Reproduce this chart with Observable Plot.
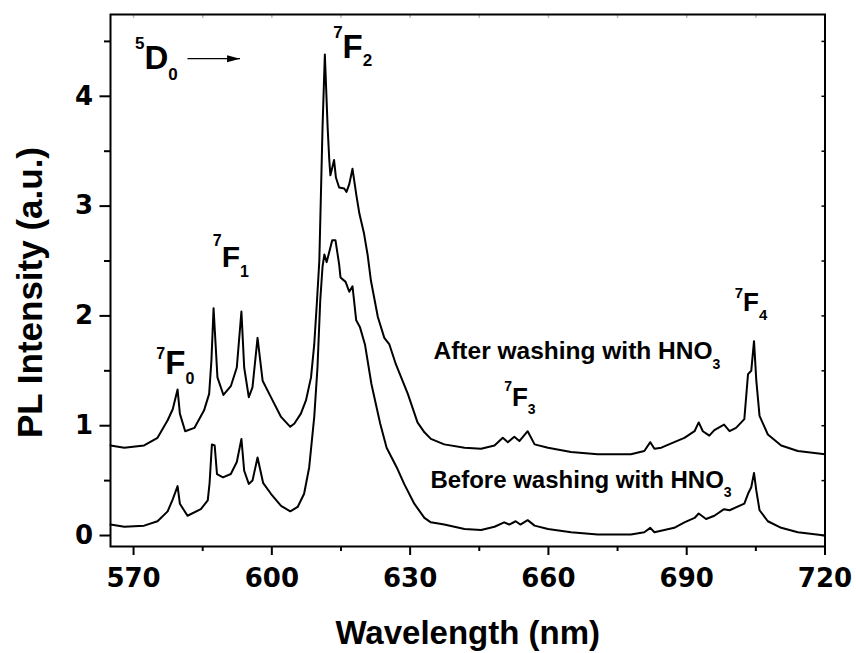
<!DOCTYPE html>
<html><head><meta charset="utf-8">
<script src="https://cdn.jsdelivr.net/npm/d3@7"></script>
<script src="https://cdn.jsdelivr.net/npm/@observablehq/plot@0.6"></script>
<style>html,body{margin:0;padding:0;background:#fff}svg{display:block}</style>
</head><body><div id="chart"></div>
<script>
// ---- data ----
const afterWl = [565.0,568.0,572.3,575.2,577.4,578.5,579.55,580.05,581.2,583.2,585.3,586.4,586.9,587.36,588.2,589.5,591.1,592.4,593.4,594.0,595.0,595.8,596.9,598.0,599.8,602.0,604.0,604.9,606.3,607.4,608.5,609.2,609.8,610.3,611.0,611.5,612.1,612.46,612.7,613.5,613.9,614.6,615.7,616.2,616.8,617.5,618.3,619.0,620.0,620.8,621.5,623.0,624.4,625.5,626.9,629.5,631.6,633.1,634.5,637.4,641.8,645.4,648.3,650.1,651.2,652.6,653.7,655.5,657.0,659.9,664.9,670.7,677.9,680.8,682.1,683.0,684.5,687.3,689.5,691.7,692.6,693.5,694.9,696.0,698.1,699.3,700.7,702.5,703.3,704.0,704.6,705.1,705.8,707.6,710.5,714.1,720.0];
const afterI  = [0.82,0.80,0.82,0.89,1.05,1.15,1.33,1.11,0.95,0.98,1.14,1.29,1.60,2.07,1.44,1.28,1.36,1.53,2.04,1.53,1.26,1.35,1.80,1.41,1.26,1.08,0.99,1.02,1.11,1.23,1.44,1.74,2.14,2.50,3.72,4.38,3.72,3.42,3.28,3.42,3.26,3.17,3.16,3.13,3.20,3.34,3.11,2.93,2.75,2.55,2.32,1.99,1.80,1.74,1.56,1.29,1.03,0.94,0.88,0.83,0.80,0.79,0.82,0.89,0.85,0.90,0.86,0.95,0.83,0.80,0.76,0.74,0.74,0.77,0.85,0.79,0.80,0.85,0.89,0.95,1.03,0.95,0.91,0.96,1.01,0.95,0.98,1.06,1.47,1.50,1.77,1.41,1.09,0.92,0.82,0.77,0.74];
const beforeWl = [565.0,568.0,572.3,575.2,577.4,578.5,579.55,580.05,581.7,584.6,586.1,586.5,587.0,587.6,588.1,589.4,591.1,592.4,593.4,594.0,595.0,595.8,596.9,598.1,599.8,602.0,604.0,605.6,607.0,608.1,609.2,609.9,610.5,611.0,611.4,611.9,613.1,613.8,614.6,614.9,616.0,616.8,617.5,618.3,619.1,620.2,621.6,623.5,624.9,627.1,628.7,630.9,633.1,634.5,637.4,641.8,645.4,648.3,650.4,651.5,652.9,653.9,655.5,657.0,659.9,664.9,670.7,677.9,680.8,682.1,683.0,687.3,689.5,691.7,692.6,694.2,696.0,698.1,699.3,702.5,703.3,704.0,704.6,705.1,705.8,707.6,710.5,714.1,720.0];
const beforeI  = [0.10,0.08,0.09,0.13,0.22,0.33,0.45,0.29,0.18,0.24,0.32,0.48,0.83,0.82,0.56,0.53,0.56,0.67,0.88,0.59,0.47,0.50,0.71,0.48,0.38,0.27,0.22,0.26,0.38,0.62,1.08,1.53,2.14,2.45,2.56,2.49,2.69,2.69,2.47,2.35,2.31,2.22,2.27,1.96,1.90,1.74,1.38,1.02,0.80,0.62,0.47,0.29,0.16,0.12,0.10,0.06,0.05,0.08,0.12,0.10,0.13,0.10,0.14,0.09,0.06,0.03,0.01,0.01,0.03,0.07,0.03,0.07,0.12,0.16,0.20,0.15,0.18,0.24,0.23,0.29,0.38,0.44,0.57,0.41,0.23,0.13,0.07,0.03,0.00];

const xTicks = [570, 600, 630, 660, 690, 720];
const xMinorTicks = [585, 615, 645, 675, 705];
const yTicks = [0, 1, 2, 3, 4];
const yMinorTicks = [0.5, 1.5, 2.5, 3.5, 4.5];

// annotations: superscript, main, subscript, anchored at (wavelength, intensity)
const labelSup  = ["5", "7", "7", "7", "7", "7", "", ""];
const labelMain = ["D", "F", "F", "F", "F", "F", "After washing with HNO", "Before washing with HNO"];
const labelSub  = ["0", "2", "1", "0", "3", "4", "3", "3"];
const labelWl   = [570.3, 613.3, 587.2, 574.95, 650.4, 700.4, 635.07, 634.42];
const labelI    = [4.245, 4.345, 2.443, 1.471, 1.182, 2.048, 1.608, 0.43];
const arrowWl = [581.7, 593.1];
const arrowI = 4.343;

// ---- styles (not data) ----
const labelStyle = [
  {main: 33, small: 17, rise: 20, drop: 11},
  {main: 33, small: 17, rise: 20, drop: 8},
  {main: 30, small: 16, rise: 21, drop: 10},
  {main: 33, small: 16, rise: 15, drop: 10},
  {main: 26, small: 14, rise: 15, drop: 8},
  {main: 26, small: 15, rise: 13, drop: 9},
  {main: 24.5, small: 14, rise: 0, drop: 10},
  {main: 24, small: 14, rise: 0, drop: 9}
];

const after = afterWl.map((x, i) => ({x, y: afterI[i]}));
const before = beforeWl.map((x, i) => ({x, y: beforeI[i]}));
const idx = labelMain.map((_, i) => i);
const tickFont = {fontFamily: "'DejaVu Sans', sans-serif", fontSize: 26, fontWeight: "bold"};

const chart = Plot.plot({
  width: 856, height: 653,
  marginLeft: 110, marginRight: 31.5, marginTop: 14, marginBottom: 107,
  x: {domain: [565, 720]},
  y: {domain: [-0.1, 4.745]},
  style: {fontFamily: "'Liberation Sans', Arial, sans-serif", background: "#fff", color: "#000"},
  marks: [
    Plot.axisX({ticks: xTicks, tickSize: 9, tickPadding: 13, strokeWidth: 2, tickFormat: d => String(d), label: null, ...tickFont}),
    Plot.axisX({ticks: xMinorTicks, tickSize: 5, strokeWidth: 2, tickFormat: () => "", label: null}),
    Plot.axisX({anchor: "top", ticks: xTicks.concat(xMinorTicks), tickSize: 3, dy: 3, stroke: "#bbb", strokeWidth: 1.5, tickFormat: () => "", label: null}),
    Plot.axisY({ticks: yTicks, tickSize: 10.5, tickPadding: 7, strokeWidth: 2, tickFormat: d => String(d), label: null, ...tickFont}),
    Plot.axisY({ticks: yMinorTicks, tickSize: 6, strokeWidth: 2, tickFormat: () => "", label: null}),
    Plot.axisY({anchor: "right", ticks: yTicks.concat(yMinorTicks), tickSize: 4, dx: -4, strokeWidth: 1.5, tickFormat: () => "", label: null}),
    Plot.frame({stroke: "#000", strokeWidth: 2}),
    Plot.line(after, {x: "x", y: "y", stroke: "#000", strokeWidth: 2, strokeLinejoin: "round"}),
    Plot.line(before, {x: "x", y: "y", stroke: "#000", strokeWidth: 2, strokeLinejoin: "round"}),
    Plot.link([0], {x1: () => arrowWl[0], x2: () => arrowWl[1], y1: () => arrowI, y2: () => arrowI, stroke: "#000", strokeWidth: 1.2}),
    Plot.text(idx, {x: i => labelWl[i], y: i => labelI[i], text: i => labelSup[i] + labelMain[i] + labelSub[i], textAnchor: "start", lineAnchor: "bottom", fontWeight: "bold", fontSize: 24, fill: "#000"}),
    Plot.text(["Wavelength (nm)"], {frameAnchor: "bottom", dy: 97, lineAnchor: "bottom", textAnchor: "middle", text: d => d, fontSize: 33, fontWeight: "bold", fill: "#000"}),
    Plot.text(["PL Intensity (a.u.)"], {frameAnchor: "left", rotate: -90, dx: -69, dy: 12, lineAnchor: "bottom", textAnchor: "middle", text: d => d, fontSize: 35, fontWeight: "bold", fill: "#000"})
  ]
});

// build super/subscripts with tspans (first text mark = annotations)
const NS = "http://www.w3.org/2000/svg";
const annoGroup = chart.querySelector('g[aria-label="text"]');
annoGroup.querySelectorAll('text').forEach((el, i) => {
  const st = labelStyle[i];
  el.textContent = "";
  const add = (t, size, dy) => {
    if (!t) return;
    const ts = document.createElementNS(NS, "tspan");
    ts.textContent = t;
    ts.setAttribute("font-size", size);
    if (dy) ts.setAttribute("dy", dy);
    el.appendChild(ts);
  };
  add(labelSup[i], st.small, labelSup[i] ? -st.rise : 0);
  add(labelMain[i], st.main, labelSup[i] ? st.rise : 0);
  add(labelSub[i], st.small, st.drop);
});

// filled arrow head
const defs = document.createElementNS(NS, "defs");
const marker = document.createElementNS(NS, "marker");
marker.setAttribute("id", "arrowhead");
marker.setAttribute("viewBox", "0 0 13 8");
marker.setAttribute("refX", "13");
marker.setAttribute("refY", "4");
marker.setAttribute("markerUnits", "userSpaceOnUse");
marker.setAttribute("markerWidth", "13");
marker.setAttribute("markerHeight", "8");
marker.setAttribute("orient", "auto");
const head = document.createElementNS(NS, "path");
head.setAttribute("d", "M0,0.5L13,4L0,7.5Z");
head.setAttribute("fill", "#000");
marker.appendChild(head);
defs.appendChild(marker);
chart.insertBefore(defs, chart.firstChild);
chart.querySelectorAll('g[aria-label="link"] path, g[aria-label="link"] line').forEach(p => p.setAttribute("marker-end", "url(#arrowhead)"));

document.getElementById("chart").appendChild(chart);
</script>
</body></html>
